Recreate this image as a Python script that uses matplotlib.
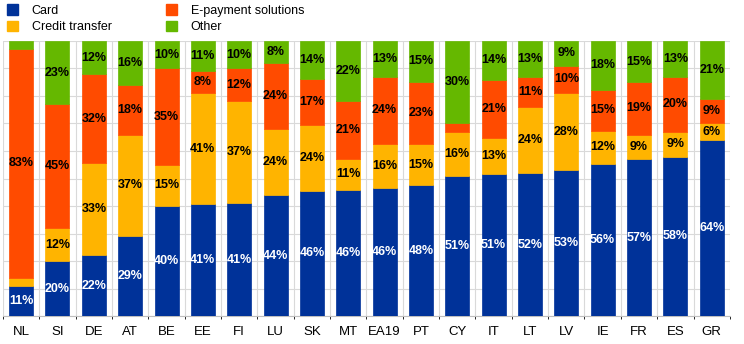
import numpy as np
import matplotlib.pyplot as plt
from matplotlib.patches import Patch

plt.rcParams['font.family'] = ['Liberation Sans', 'DejaVu Sans']

# -------------------- Data --------------------
countries = ['NL', 'SI', 'DE', 'AT', 'BE', 'EE', 'FI', 'LU', 'SK', 'MT',
             'EA19', 'PT', 'CY', 'IT', 'LT', 'LV', 'IE', 'FR', 'ES', 'GR']
card = [11, 20, 22, 29, 40, 41, 41, 44, 46, 46, 46, 48, 51, 51, 52, 53, 56, 57, 58, 64]
credit_transfer = [3, 12, 33, 37, 15, 41, 37, 24, 24, 11, 16, 15, 16, 13, 24, 28, 12, 9, 9, 6]
e_payment = [83, 45, 32, 18, 35, 8, 12, 24, 17, 21, 24, 23, 3, 21, 11, 10, 15, 19, 20, 9]
other = [3, 23, 12, 16, 10, 11, 10, 8, 14, 22, 13, 15, 30, 14, 13, 9, 18, 15, 13, 21]

series = [
    ('Card', card, '#003299', 'white'),
    ('Credit transfer', credit_transfer, '#ffb400', 'black'),
    ('E-payment solutions', e_payment, '#ff4b00', 'black'),
    ('Other', other, '#65b800', 'black'),
]

# shares of each country's total (rounded labels don't always add to 100)
totals = np.sum([s[1] for s in series], axis=0).astype(float)

# -------------------- Plot --------------------
fig = plt.figure(figsize=(7.44, 3.44), dpi=100)
ax = fig.add_axes([0.004, 0.081, 0.977, 0.800])

x = np.arange(len(countries))
bottom = np.zeros(len(countries))
for name, vals, color, txt_color in series:
    vals = np.array(vals, dtype=float)
    h = vals / totals * 100
    ax.bar(x, h, bottom=bottom, width=0.66, color=color, zorder=3,
           edgecolor=color, linewidth=0.5)
    for xi, b, hv, v in zip(x, bottom, h, vals):
        if v >= 5:
            ax.text(xi, b + hv / 2, f'{int(v)}%', ha='center', va='center',
                    fontsize=9, color=txt_color, fontweight='bold', zorder=4)
    bottom += h

ax.set_xlim(-0.5, len(countries) - 0.5)
ax.set_ylim(0, 100)
ax.set_yticks(np.arange(0, 101, 10))
ax.set_yticklabels([])
ax.tick_params(axis='y', length=0)
ax.set_xticks(x)
ax.set_xticklabels(countries, fontsize=9.5)
ax.tick_params(axis='x', length=0, pad=7)
ax.set_xticks(np.arange(-0.5, len(countries), 1), minor=True)
ax.grid(axis='y', color='#d9d9d9', linewidth=0.8, zorder=0)
ax.grid(axis='x', which='minor', color='#d9d9d9', linewidth=0.8, zorder=0)
for side in ['top', 'right', 'left']:
    ax.spines[side].set_visible(False)
ax.spines['bottom'].set_color('#bfbfbf')

handles = [Patch(facecolor=c, edgecolor=c) for _, _, c, _ in series]
labels = [s[0] for s in series]
fig.legend(handles, labels, loc='upper left', bbox_to_anchor=(-0.006, 1.02), ncol=2,
           frameon=False, fontsize=9, handlelength=0.9, handleheight=0.9,
           handletextpad=1.1, columnspacing=4.3, labelspacing=0.3)

fig.savefig('out.png', dpi=100)
